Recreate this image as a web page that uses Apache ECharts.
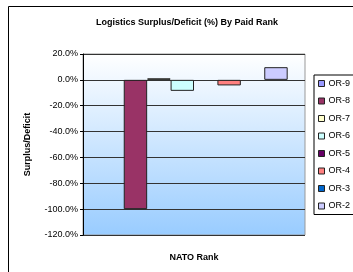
<!DOCTYPE html>
<html lang="en">
<head>
    <meta charset="UTF-8">
    <title>Logistics Surplus/Deficit</title>
    <style>
        html, body { margin: 0; padding: 0; background: #fff; }
        .chart { width: 353px; height: 272px; }
    </style>
</head>
<body>
<div class="chart" id="showData"></div>
<script src="https://cdn.jsdelivr.net/npm/echarts@6/dist/echarts.min.js"></script>
<script>
    // one category, one bar per rank
    var categories = ['NATO Rank'];
    var rankNames = ['OR-9', 'OR-8', 'OR-7', 'OR-6', 'OR-5', 'OR-4', 'OR-3', 'OR-2'];
    var rankValues = [0, -100, 1.2, -8.5, 0, -4.3, 0, 9.8];
    var rankColors = ['#9999FF', '#993366', '#FFFFCC', '#CCFFFF', '#660066', '#FF8080', '#0066CC', '#CCCCFF'];
    var yTicks = { min: -120, max: 20, interval: 20 };

    var font = 'Arial, "Liberation Sans", sans-serif';
    var series = [];
    for (var i = 0; i < rankNames.length; i++) {
        series.push({
            name: rankNames[i],
            type: 'bar',
            data: [rankValues[i]],
            barGap: '0%',
            barCategoryGap: '15.6%',
            // zero bars show nothing in the original
            itemStyle: {
                color: rankColors[i],
                borderColor: '#222',
                borderWidth: rankValues[i] === 0 ? 0 : 1
            }
        });
    }

    var mychart = echarts.init(document.getElementById('showData'));
    var option = {
        animation: false,
        title: {
            text: 'Logistics Surplus/Deficit (%) By Paid Rank',
            left: 182, top: 13, textAlign: 'center',
            textStyle: { fontFamily: font, fontSize: 9, fontWeight: 'bold', color: '#000' }
        },
        graphic: [{
            type: 'rect', left: 6, top: 4, silent: true,
            shape: { width: 400, height: 320 },
            style: { fill: 'none', stroke: '#000', lineWidth: 1 }
        }],
        legend: {
            orient: 'vertical',
            left: 314, top: 75,
            width: 40,
            padding: [4, 10, 4, 4],
            itemWidth: 6, itemHeight: 6, itemGap: 8.5,
            icon: 'rect',
            borderColor: '#000', borderWidth: 1,
            itemStyle: { borderColor: '#222', borderWidth: 1 },
            textStyle: { fontFamily: font, fontSize: 9, color: '#000', padding: [0, 0, 0, -1] },
            data: rankNames
        },
        grid: {
            left: 83, right: 48, top: 54, bottom: 37,
            show: true,
            borderColor: '#999', borderWidth: 1,
            backgroundColor: {
                type: 'linear', x: 0, y: 0, x2: 0, y2: 1,
                colorStops: [{ offset: 0, color: '#FFFFFF' }, { offset: 1, color: '#99CCFF' }]
            }
        },
        xAxis: {
            type: 'category',
            data: categories,
            name: 'NATO Rank',
            nameLocation: 'middle',
            nameGap: 18,
            nameTextStyle: { fontFamily: font, fontSize: 9, fontWeight: 'bold', color: '#000' },
            axisLine: { show: false },
            axisTick: { show: false },
            axisLabel: { show: false }
        },
        yAxis: {
            type: 'value',
            min: yTicks.min, max: yTicks.max, interval: yTicks.interval,
            name: 'Surplus/Deficit',
            nameLocation: 'middle',
            nameGap: 51,
            nameTextStyle: { fontFamily: font, fontSize: 9, fontWeight: 'bold', color: '#000' },
            axisLine: { show: true, lineStyle: { color: '#000', width: 1 } },
            axisTick: { show: true, length: 3, lineStyle: { color: '#000' } },
            axisLabel: {
                fontFamily: font, fontSize: 9, color: '#000', margin: 5,
                formatter: function (v) { return v.toFixed(1) + '%'; }
            },
            splitLine: { show: true, lineStyle: { color: '#333', width: 1 } }
        },
        series: series
    };
    mychart.setOption(option);
</script>
</body>
</html>
